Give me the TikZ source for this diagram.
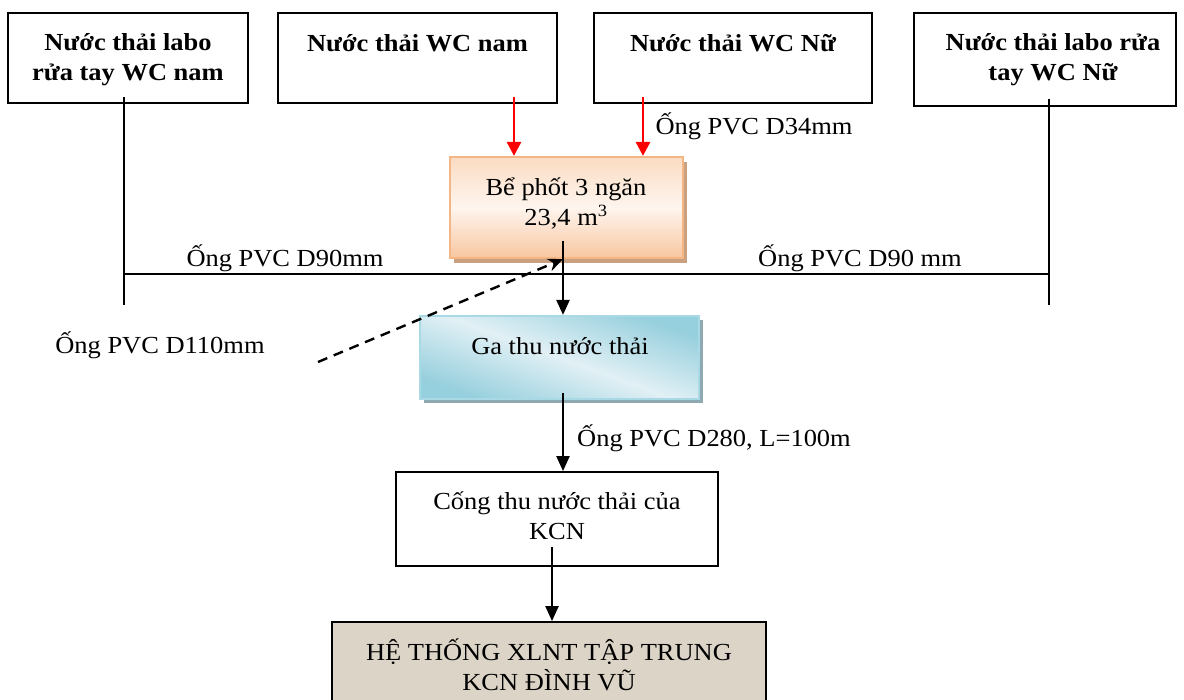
\documentclass[tikz,border=0pt]{standalone}
\usepackage{fontspec}
\setmainfont{Liberation Serif}[FakeStretch=1.08]
\usetikzlibrary{arrows.meta,calc,shadows}
\definecolor{redc}{HTML}{FF0000}
\definecolor{bpTop}{HTML}{FBDCC2}
\definecolor{bpMid}{HTML}{FEF5EE}
\definecolor{bpBot}{HTML}{F8C6A0}
\definecolor{bpDraw}{HTML}{F4B684}
\definecolor{bpShadow}{HTML}{C9A080}
\definecolor{gaDark}{HTML}{96CFDD}
\definecolor{gaLight}{HTML}{E1F0F5}
\definecolor{gaDraw}{HTML}{A9D9E5}
\definecolor{gaShadow}{HTML}{8FA9B3}
\definecolor{htFill}{HTML}{DCD4C7}
\begin{document}
\begin{tikzpicture}[x=1pt,y=-1pt,
  txt/.style={font=\fontsize{24.5}{30}\selectfont, align=center, inner sep=0pt},
  btxt/.style={font=\fontsize{24.5}{30}\selectfont\bfseries, align=center, inner sep=0pt},
  box/.style={draw=black, line width=1.8pt, inner sep=0pt},
  pipe/.style={line width=1.8pt},
  flow/.style={line width=2.2pt, -{Triangle[length=15pt,width=13pt]}},
  redflow/.style={line width=2.8pt, draw=redc, -{Triangle[length=14pt,width=14pt]}},
  dashflow/.style={line width=2.4pt, dash pattern=on 10pt off 7pt, -{Stealth[length=15pt,width=13pt]}},
  tankbox/.style={draw=bpDraw, line width=2.2pt, inner sep=0pt,
    top color=bpTop, bottom color=bpBot, middle color=bpMid,
    general shadow={fill=bpShadow, shadow xshift=4pt, shadow yshift=-5pt}},
  gabox/.style={draw=gaDraw, line width=2.2pt, inner sep=0pt,
    top color=gaDark, bottom color=gaDark, middle color=gaLight, shading angle=-20,
    general shadow={fill=gaShadow, shadow xshift=4pt, shadow yshift=-4pt}}
]
\useasboundingbox (0,0) rectangle (1184,700);

% source boxes
\node[box, minimum width=240, minimum height=90] (b1) at (128,58) {};
\node[btxt] (b1t) at (128,60) {Nước thải labo\\rửa tay WC nam};
\node[box, minimum width=279, minimum height=90] (b2) at (417.5,58) {};
\node[btxt] (b2t) at (417.5,43) {Nước thải WC nam};
\node[box, minimum width=278, minimum height=90] (b3) at (733,58) {};
\node[btxt] (b3t) at (733,43) {Nước thải WC Nữ};
\node[box, minimum width=262, minimum height=93] (b4) at (1045,59.5) {};
\node[btxt] (b4t) at (1053,60) {Nước thải labo rửa\\tay WC Nữ};

% septic tank
\node[tankbox, minimum width=233, minimum height=101] (bp) at (566.5,207.5) {};
\node[txt] (bpt) at (566,203.5) {Bể phốt 3 ngăn\\23,4 m\textsuperscript{3}};

% collection pit
\node[gabox, minimum width=279, minimum height=83] (ga) at (559.5,357.5) {};
\node[txt] (gat) at (560,346) {Ga thu nước thải};

% KCN sewer
\node[box, minimum width=322, minimum height=94] (kcn) at (557,519) {};
\node[txt] (kcnt) at (557,516) {Cống thu nước thải của\\KCN};

% central treatment
\node[box, fill=htFill, minimum width=434, minimum height=84] (ht) at (549,664) {};
\node[txt] (htt) at (549,665) {HỆ THỐNG XLNT TẬP TRUNG\\KCN ĐÌNH VŨ};

% coordinates
\coordinate (l1) at (124,97);
\coordinate (l2) at (124,305);
\coordinate (r1) at (1049,99);
\coordinate (r2) at (1049,305);
\coordinate (hl) at (124,274);
\coordinate (hr) at (1049,274);
\coordinate (rs1) at (514,97);
\coordinate (rs2) at (643,97);
\coordinate (bps) at (563,241);
\coordinate (dst) at (318,362);
\coordinate (gas) at (563,393);
\coordinate (ks) at (552,547);

% pipes
\draw[pipe] (l1) -- (l2);
\draw[pipe] (r1) -- (r2);
\draw[pipe] (hl) -- (hr);

% flows
\draw[redflow] (rs1) -- (rs1 |- bp.north);
\draw[redflow] (rs2) -- (rs2 |- bp.north);
\draw[flow] (bps) -- (bps |- ga.north);
\draw[dashflow] (dst) -- (bps |- bp.south);
\draw[flow] (gas) -- (gas |- kcn.north);
\draw[flow] (ks) -- (ks |- ht.north);

% labels
\node[txt] (lab34) at (754,126) {Ống PVC D34mm};
\node[txt] (lab90a) at (285,258) {Ống PVC D90mm};
\node[txt] (lab90b) at (860,258) {Ống PVC D90 mm};
\node[txt] (lab110) at (160,345) {Ống PVC D110mm};
\node[txt] (lab280) at (714,438) {Ống PVC D280, L=100m};
\end{tikzpicture}
\end{document}
